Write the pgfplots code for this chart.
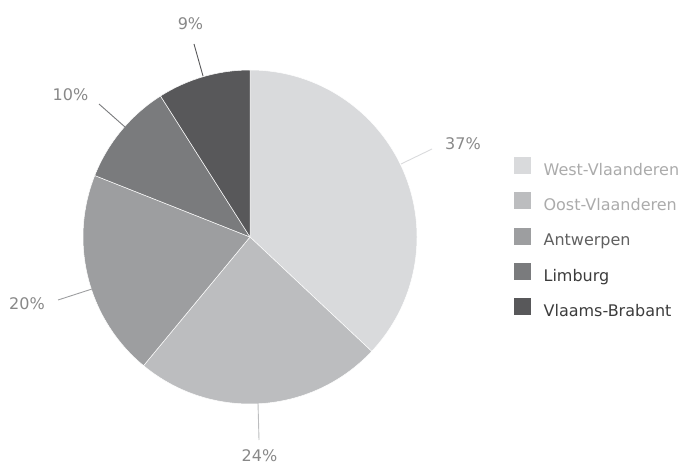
\documentclass[border=0pt]{standalone}
\usepackage{fontspec}
\setmainfont{DejaVu Sans}
\usepackage{pgfplots}
\usepackage{pgfplotstable}
\pgfplotsset{compat=1.18}

\definecolor{cA}{HTML}{D9DADC}
\definecolor{cB}{HTML}{BCBDBF}
\definecolor{cC}{HTML}{9D9EA0}
\definecolor{cD}{HTML}{7A7B7D}
\definecolor{cE}{HTML}{58585A}
\definecolor{lbl}{HTML}{888888}
\definecolor{tA}{HTML}{ABABAB}
\definecolor{tC}{HTML}{606060}
\definecolor{tD}{HTML}{3C3C3C}

\pgfplotstableread{
name value
West-Vlaanderen 37
Oost-Vlaanderen 24
Antwerpen 20
Limburg 10
Vlaams-Brabant 9
}\piedata

\pgfplotstablegetelem{0}{value}\of\piedata \let\vA\pgfplotsretval
\pgfplotstablegetelem{1}{value}\of\piedata \let\vB\pgfplotsretval
\pgfplotstablegetelem{2}{value}\of\piedata \let\vC\pgfplotsretval
\pgfplotstablegetelem{3}{value}\of\piedata \let\vD\pgfplotsretval
\pgfplotstablegetelem{4}{value}\of\piedata \let\vE\pgfplotsretval

% cumulative angles, clockwise from the top
\pgfmathsetmacro\aA{90}
\pgfmathsetmacro\aB{\aA-3.6*\vA}
\pgfmathsetmacro\aC{\aB-3.6*\vB}
\pgfmathsetmacro\aD{\aC-3.6*\vC}
\pgfmathsetmacro\aE{\aD-3.6*\vD}
\pgfmathsetmacro\aF{\aE-3.6*\vE}

\newcommand\slice[3]{% color, start, end
  \fill[#1, draw=white, line width=0.5pt] (axis cs:250,227) -- ++(#2:167pt) arc[start angle=#2, end angle=#3, radius=167pt] -- cycle;
}
\newcommand\leader[3]{% color, from, to
  \draw[#1, line width=0.9pt] (axis cs:#2) -- (axis cs:#3);
}
\newcommand\plabel[2]{\node[inner sep=0pt, text=lbl] at (axis cs:#1) {#2\%};}

\begin{document}
\begin{tikzpicture}
\useasboundingbox (0,0) rectangle (687pt,464pt);
\clip (0,0) rectangle (687pt,464pt);
\fontsize{16}{19}\selectfont
\begin{axis}[
  x=1pt, y=1pt,
  xmin=0, xmax=687, ymin=0, ymax=464,
  hide axis, clip=false,
  legend style={at={(axis cs:513.5,307)}, anchor=north west, draw=none, fill=none,
    inner sep=0pt, font=\fontsize{16}{19}\selectfont, row sep=13pt, column sep=13.5pt,
    nodes={inner sep=0pt, text height=12pt, text depth=4pt}},
  legend cell align=left,
]
\slice{cA}{\aA}{\aB}
\slice{cB}{\aB}{\aC}
\slice{cC}{\aC}{\aD}
\slice{cD}{\aD}{\aE}
\slice{cE}{\aE}{\aF}
\leader{cA}{401,300}{432,315}
\leader{cB}{258,61}{259,24}
\leader{cC}{92,175}{58,164}
\leader{cD}{125,337}{99,360}
\leader{cE}{203,388}{194,420}
\plabel{463,320}{\vA}
\plabel{259.5,8.5}{\vB}
\plabel{27,160}{\vC}
\plabel{70.5,369}{\vD}
\plabel{190.5,440}{\vE}
\addlegendimage{legend image code/.code={\fill[cA] (0pt,-2pt) rectangle (16pt,14pt);}}
\addlegendentry{\textcolor{tA}{West-Vlaanderen}}
\addlegendimage{legend image code/.code={\fill[cB] (0pt,-2pt) rectangle (16pt,14pt);}}
\addlegendentry{\textcolor{tA}{Oost-Vlaanderen}}
\addlegendimage{legend image code/.code={\fill[cC] (0pt,-2pt) rectangle (16pt,14pt);}}
\addlegendentry{\textcolor{tC}{Antwerpen}}
\addlegendimage{legend image code/.code={\fill[cD] (0pt,-2pt) rectangle (16pt,14pt);}}
\addlegendentry{\textcolor{tD}{Limburg}}
\addlegendimage{legend image code/.code={\fill[cE] (0pt,-2pt) rectangle (16pt,14pt);}}
\addlegendentry{\textcolor{tD}{Vlaams-Brabant}}
\end{axis}
\end{tikzpicture}
\end{document}
